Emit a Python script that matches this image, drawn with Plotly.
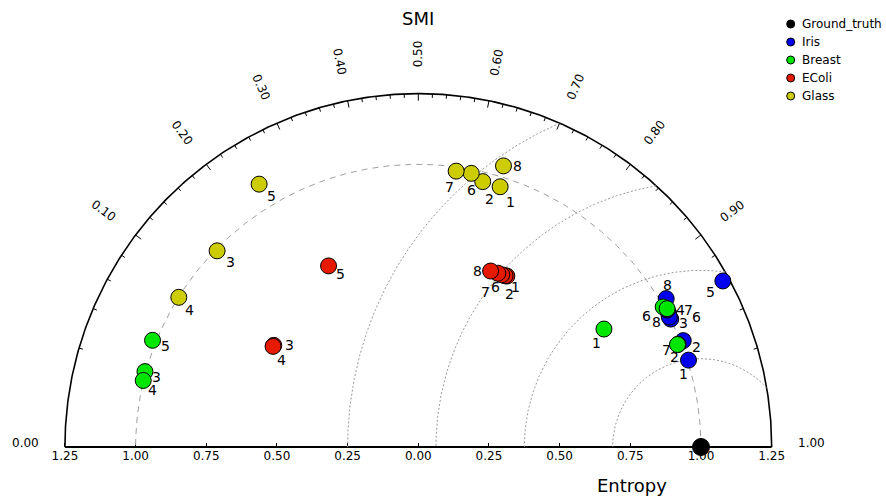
import numpy as np
import plotly.graph_objects as go

# ---------------- data ----------------
point_labels = ["1", "2", "3", "4", "5", "6", "7", "8"]

iris_entropy = [1.004, 1.010, 1.001, 1.004, 1.227, 1.000, 1.005, 1.022]
iris_smi = [0.976, 0.964, 0.946, 0.941, 0.939, 0.944, 0.938, 0.929]

breast_entropy = [0.778, 0.988, 1.003, 1.001, 1.013, 0.998, 0.986, 1.007]
breast_smi = [0.922, 0.965, 0.018, 0.014, 0.036, 0.934, 0.965, 0.937]

ecoli_entropy = [0.681, 0.679, 0.625, 0.625, 0.715, 0.677, 0.676, 0.673]
ecoli_smi = [0.730, 0.726, 0.091, 0.089, 0.278, 0.718, 0.708, 0.690]

glass_entropy = [0.965, 0.966, 0.994, 0.999, 1.087, 0.986, 0.985, 1.039]
glass_smi = [0.650, 0.618, 0.142, 0.076, 0.241, 0.595, 0.568, 0.645]

gt_entropy = [1.0]
gt_smi = [1.0]

smi_major_ticks = [0.0, 0.1, 0.2, 0.3, 0.4, 0.5, 0.6, 0.7, 0.8, 0.9, 1.0]
entropy_ticks = [-1.25, -1.0, -0.75, -0.5, -0.25, 0.0, 0.25, 0.5, 0.75, 1.0, 1.25]
entropy_ticktext = ["%.2f" % abs(t) for t in entropy_ticks]
rms_radii = [0.3125, 0.625, 0.9375, 1.25]
R_MAX = 1.25

legend_names = ["Ground_truth", "Iris", "Breast", "EColi", "Glass"]

# ---------------- style ----------------
FONT = "DejaVu Sans"
W, H = 886, 498
CX, CY, S = 418.3, 447.0, 282.7  # pixel centre and pixels per unit
colors = {"Ground_truth": "#000000", "Iris": "#0000ee", "Breast": "#00e600",
          "EColi": "#e61a00", "Glass": "#cccc00"}
# label offsets in pixels (dx right, dy down)
label_offsets = {
    "Iris": [(-5, 14), (13, 6), (13, 4), (12, -3), (-12, 11), (27, 0), (21, 0), (1, -14)],
    "Breast": [(-7, 14), (-4, 13), (12, 5), (9, 9), (13, 6), (-17, 9), (-11, 5), (-11, 13)],
    "EColi": [(9, 11), (4, 18), (16, 0), (8, 14), (12, 8), (-6, 12), (-12, 19), (-13, 0)],
    "Glass": [(10, 15), (7, 17), (13, 11), (11, 13), (12, 12), (0, 17), (-7, 16), (14, 0)],
}


def to_xy(r, v):
    r = np.asarray(r, dtype=float)
    th = np.arccos(2 * np.asarray(v, dtype=float) - 1)
    return r * np.cos(th), r * np.sin(th)


fig = go.Figure()

# outer arc
phi = np.linspace(0, np.pi, 400)
fig.add_trace(go.Scatter(x=R_MAX * np.cos(phi), y=R_MAX * np.sin(phi), mode="lines",
                         line=dict(color="black", width=1.6), hoverinfo="skip", showlegend=False))
# baseline
fig.add_trace(go.Scatter(x=[-R_MAX, R_MAX], y=[0, 0], mode="lines",
                         line=dict(color="black", width=1.8), hoverinfo="skip", showlegend=False))
# dashed reference arc (entropy = 1)
fig.add_trace(go.Scatter(x=np.cos(phi), y=np.sin(phi), mode="lines",
                         line=dict(color="#a0a0a0", width=1, dash="6px,5px"),
                         hoverinfo="skip", showlegend=False))
# dotted RMS circles around ground truth
gx, gy = to_xy(gt_entropy, gt_smi)
for R in rms_radii:
    c = (R_MAX ** 2 - gx[0] ** 2 - R ** 2) / (2 * R * gx[0])
    p0 = np.arccos(np.clip(c, -1, 1))
    pp = np.linspace(p0, np.pi, 300)
    fig.add_trace(go.Scatter(x=gx[0] + R * np.cos(pp), y=R * np.sin(pp), mode="lines",
                             line=dict(color="#999999", width=1, dash="2px,2px"),
                             hoverinfo="skip", showlegend=False))

# angular ticks
tx, ty = [], []
minor = np.round(np.arange(0.02, 0.99, 0.02), 2)
for v in sorted(set(list(minor) + smi_major_ticks[1:-1])):
    th = np.arccos(2 * v - 1)
    L = 7 / S if any(abs(v - m) < 1e-6 for m in smi_major_ticks) else 4 / S
    tx += [R_MAX * np.cos(th), (R_MAX - L) * np.cos(th), None]
    ty += [R_MAX * np.sin(th), (R_MAX - L) * np.sin(th), None]
fig.add_trace(go.Scatter(x=tx, y=ty, mode="lines", line=dict(color="black", width=1),
                         hoverinfo="skip", showlegend=False))

annotations = []
for v in smi_major_ticks:
    th = np.arccos(2 * v - 1)
    deg = np.degrees(th)
    rot = deg if deg <= 90 else deg - 180
    annotations.append(dict(x=1.39 * np.cos(th), y=1.39 * np.sin(th), xref="x", yref="y",
                            text="%.2f" % v, showarrow=False, textangle=-rot,
                            xanchor="center", yanchor="middle",
                            yshift=4 if v in (0.0, 1.0) else 0,
                            font=dict(family=FONT, size=12, color="black")))

# data points
series = [("Iris", iris_entropy, iris_smi), ("Breast", breast_entropy, breast_smi),
          ("EColi", ecoli_entropy, ecoli_smi), ("Glass", glass_entropy, glass_smi)]
for name, r, v in series:
    x, y = to_xy(r, v)
    fig.add_trace(go.Scatter(x=x, y=y, mode="markers", name=name,
                             marker=dict(size=16, color=colors[name], line=dict(color="black", width=1)),
                             showlegend=False))
    for i, lab in enumerate(point_labels):
        dx, dy = label_offsets[name][i]
        annotations.append(dict(x=x[i], y=y[i], xref="x", yref="y", text=lab, showarrow=False,
                                xshift=dx, yshift=-dy, xanchor="center", yanchor="middle",
                                font=dict(family=FONT, size=14, color="black")))

fig.add_trace(go.Scatter(x=gx, y=gy, mode="markers", name="Ground_truth",
                         marker=dict(size=17, color="black", line=dict(color="black", width=1)),
                         showlegend=False))

# titles
annotations.append(dict(x=418 / W, y=1 - 18 / H, xref="paper", yref="paper", text="SMI",
                        xanchor="center", yanchor="middle",
                        showarrow=False, font=dict(family=FONT, size=18, color="black")))
annotations.append(dict(x=632 / W, y=1 - 485 / H, xref="paper", yref="paper", text="Entropy",
                        xanchor="center", yanchor="middle",
                        showarrow=False, font=dict(family=FONT, size=18, color="black")))

# manual legend
shapes = []
for k, nm in enumerate(legend_names):
    py = 24 + 18 * k
    px = 790.7
    shapes.append(dict(type="circle", xref="paper", yref="paper", xsizemode="pixel", ysizemode="pixel",
                       xanchor=px / W, yanchor=1 - py / H, x0=-4, x1=4, y0=-4, y1=4,
                       fillcolor=colors[nm], line=dict(color="black", width=1)))
    annotations.append(dict(x=800 / W, y=1 - py / H, xref="paper", yref="paper", text=nm,
                            xanchor="left", yanchor="middle", showarrow=False,
                            font=dict(family=FONT, size=12, color="black")))

x0 = -CX / S
x1 = (W - CX) / S
y1 = CY / S
y0 = -(H - CY) / S
fig.update_layout(
    width=W, height=H, autosize=False, margin=dict(l=0, r=0, t=0, b=0),
    paper_bgcolor="white", plot_bgcolor="white",
    xaxis=dict(range=[x0, x1], showgrid=False, zeroline=False, showline=False,
               tickvals=entropy_ticks, ticktext=entropy_ticktext, ticks="inside", ticklen=4,
               tickcolor="black", anchor="free", position=(H - CY) / H, layer="below traces",
               tickfont=dict(family=FONT, size=12, color="black"), fixedrange=True),
    yaxis=dict(range=[y0, y1], showgrid=False, zeroline=False, showline=False,
               showticklabels=False, ticks="", fixedrange=True),
    annotations=annotations, shapes=shapes, showlegend=False,
)
fig.write_html("out.html")
